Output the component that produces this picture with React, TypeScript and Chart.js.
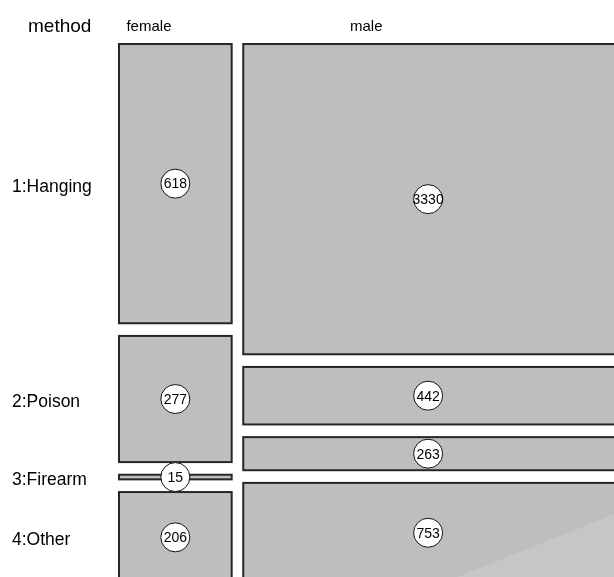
import React, { useEffect, useRef } from 'react';
import { Chart, registerables } from 'chart.js';

Chart.register(...registerables);

// ---- data ----
const sexes = ['female', 'male'];
const methods = ['1:Hanging', '2:Poison', '3:Firearm', '4:Other'];
const femaleCounts = [618, 277, 15, 206];
const maleCounts = [3330, 442, 263, 753];
// tile heights as % of each column
const femaleShares = [55.3, 25.2, 1.3, 18.2];
const maleShares = [61.4, 11.7, 6.9, 20.0];

const counts = [femaleCounts, maleCounts];
const shares = [femaleShares, maleShares];
const totals = counts.map((c) => c.reduce((a, b) => a + b, 0));

const X_GAP = 93; // gap between columns, count units
const Y_GAP = 2.1; // gap between tiles, share units

type Tile = { sex: number; method: number; x0: number; x1: number; y0: number; y1: number; n: number };

function buildTiles(): Tile[] {
  const tiles: Tile[] = [];
  let x0 = 0;
  counts.forEach((col, i) => {
    const x1 = x0 + totals[i];
    let y0 = 0;
    col.forEach((n, j) => {
      const y1 = y0 + shares[i][j];
      tiles.push({ sex: i, method: j, x0, x1, y0, y1, n });
      y0 = y1 + Y_GAP;
    });
    x0 = x1 + X_GAP;
  });
  return tiles;
}

const FONT = "'Liberation Sans', Arial, sans-serif";

export default function App() {
  const ref = useRef<HTMLCanvasElement | null>(null);

  useEffect(() => {
    document.body.style.margin = '0';
    const canvas = ref.current;
    if (!canvas) return;
    const tiles = buildTiles();
    const xMin = -1148;
    const xMax = 4826;

    const mosaicPlugin = {
      id: 'mosaic',
      beforeDatasetsDraw(chart: any) {
        const { ctx, chartArea } = chart;
        const xs = chart.scales.x;
        const ys = chart.scales.y;
        ctx.save();
        tiles.forEach((t) => {
          const l = xs.getPixelForValue(t.x0) + 1;
          const r = xs.getPixelForValue(t.x1) - 1;
          const tp = ys.getPixelForValue(t.y0) + 1;
          const bt = ys.getPixelForValue(t.y1) - 1;
          ctx.fillStyle = '#bebebe';
          ctx.fillRect(l, tp, r - l, bt - tp);
          ctx.strokeStyle = '#262626';
          ctx.lineWidth = 2;
          ctx.strokeRect(l, tp, r - l, bt - tp);
        });
        // faint lighter wedge in the lower right of the last tile
        ctx.beginPath();
        ctx.moveTo(chartArea.right - 157, chartArea.bottom);
        ctx.lineTo(chartArea.right, chartArea.bottom - 63);
        ctx.lineTo(chartArea.right, chartArea.bottom);
        ctx.closePath();
        ctx.fillStyle = '#c6c6c6';
        ctx.fill();
        ctx.restore();
      },
      afterDatasetsDraw(chart: any) {
        const { ctx } = chart;
        const meta = chart.getDatasetMeta(0);
        ctx.save();
        ctx.fillStyle = '#000';
        ctx.font = `14px ${FONT}`;
        ctx.textAlign = 'center';
        ctx.textBaseline = 'middle';
        meta.data.forEach((pt: any, i: number) => {
          ctx.fillText(String(tiles[i].n), pt.x, pt.y + 1);
        });
        ctx.restore();
      },
      afterDraw(chart: any) {
        const { ctx } = chart;
        const xs = chart.scales.x;
        const ys = chart.scales.y;
        ctx.save();
        ctx.fillStyle = '#000';
        ctx.textBaseline = 'alphabetic';
        ctx.font = `19px ${FONT}`;
        ctx.textAlign = 'left';
        ctx.fillText('method', 28, 31.5);
        // sex labels
        const frac = [0.27, 0.252];
        ctx.font = `15px ${FONT}`;
        ctx.textAlign = 'center';
        let x0 = 0;
        sexes.forEach((s, i) => {
          const l = xs.getPixelForValue(x0);
          const r = xs.getPixelForValue(x0 + totals[i]);
          ctx.fillText(s, l + (r - l) * frac[i], 30.7);
          x0 += totals[i] + X_GAP;
        });
        // method labels at female tile centres
        ctx.font = `17.5px ${FONT}`;
        ctx.textAlign = 'left';
        tiles
          .filter((t) => t.sex === 0)
          .forEach((t) => {
            const cy = (ys.getPixelForValue(t.y0) + ys.getPixelForValue(t.y1)) / 2;
            ctx.fillText(methods[t.method], 12, cy + 8);
          });
        ctx.restore();
      },
    };

    const circleData = tiles.map((t) => ({
      x: (t.x0 + Math.min(t.x1, xMax)) / 2,
      y: (t.y0 + t.y1) / 2,
    }));

    const chart = new Chart(canvas, {
      type: 'scatter',
      data: {
        datasets: [
          {
            data: circleData,
            pointRadius: 14.5,
            pointBackgroundColor: '#ffffff',
            pointBorderColor: '#111111',
            pointBorderWidth: 1,
            clip: false as any,
          },
        ],
      },
      options: {
        responsive: false,
        animation: false,
        events: [],
        layout: { padding: 0, autoPadding: false } as any,
        plugins: { legend: { display: false }, tooltip: { enabled: false }, title: { display: false } },
        scales: {
          x: { type: 'linear', display: false, min: xMin, max: xMax },
          y: { type: 'linear', display: false, reverse: true, min: -8.46, max: 105.0 },
        },
      },
      plugins: [mosaicPlugin],
    });
    return () => chart.destroy();
  }, []);

  return (
    <div style={{ width: 614, height: 577, background: '#fff' }}>
      <canvas ref={ref} width={614} height={577} style={{ display: 'block' }} />
    </div>
  );
}
